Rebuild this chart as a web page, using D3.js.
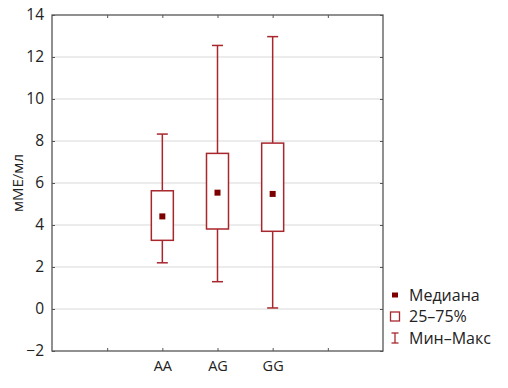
<!DOCTYPE html>
<html>
<head>
<meta charset="utf-8">
<script src="https://cdn.jsdelivr.net/npm/d3@7"></script>
<style>
  body { margin: 0; background: #fff; }
  text { font-family: "Open Sans", "Noto Sans", sans-serif; fill: #222; }
</style>
</head>
<body>
<div id="chart"></div>
<script>
// genotype groups and their box stats (mME/ml)
var groups  = ["AA", "AG", "GG"];
var mins    = [2.2, 1.3, 0.05];
var q1s     = [3.27, 3.81, 3.7];
var medians = [4.41, 5.54, 5.48];
var q3s     = [5.63, 7.41, 7.9];
var maxs    = [8.33, 12.55, 12.97];
var yTicks  = [-2, 0, 2, 4, 6, 8, 10, 12, 14];
var legendLabels = ["Медиана", "25–75%", "Мин–Макс"];

var W = 508, H = 388;
var margin = {top: 15, right: 125, bottom: 37, left: 52};
var width = W - margin.left - margin.right,
    height = H - margin.top - margin.bottom;

var boxColor = "#a8272d", medColor = "#7c0000";

var svg = d3.select("#chart").append("svg")
    .attr("width", W).attr("height", H);
var g = svg.append("g")
    .attr("transform", "translate(" + margin.left + "," + margin.top + ")");

// slots 0..6, groups sit on 2,3,4 with empty tick slots at 1 and 5
var xScale = d3.scaleLinear().domain([0, 6]).range([0, width]);
var yScale = d3.scaleLinear().domain([-2, 14]).range([height, 0]);
var slot = function(i) { return xScale(i + 2); };

// grid
g.selectAll(".grid").data(yTicks.filter(function(d){ return d > -2 && d < 14; }))
  .enter().append("line")
  .attr("x1", 0).attr("x2", width)
  .attr("y1", function(d){ return yScale(d); })
  .attr("y2", function(d){ return yScale(d); })
  .style("stroke", "#d9d9d9").style("stroke-width", 1.2);

// frame
g.append("rect").attr("width", width).attr("height", height)
  .style("fill", "none").style("stroke", "#555").style("stroke-width", 1.3);

// y axis labels + inner ticks
var yAxis = d3.axisLeft(yScale).tickValues(yTicks).tickSizeInner(-3).tickSizeOuter(0)
  .tickPadding(8).tickFormat(function(d){ return d < 0 ? "\u2212" + Math.abs(d) : d; });
var ya = g.append("g").call(yAxis);
ya.select(".domain").remove();
ya.selectAll("line").style("stroke", "#555");
ya.selectAll("text").style("font-size", "15.5px").style("fill", "#222");

// right inner ticks
var yr = g.append("g").attr("transform", "translate(" + width + ",0)")
  .call(d3.axisRight(yScale).tickValues(yTicks).tickSizeInner(-3).tickSizeOuter(0).tickFormat(""));
yr.select(".domain").remove();
yr.selectAll("line").style("stroke", "#555");

// x axis
var xTicks = [1, 2, 3, 4, 5];
var xAxis = d3.axisBottom(xScale).tickValues(xTicks).tickSizeInner(-3).tickSizeOuter(0)
  .tickPadding(10).tickFormat(function(d){ return groups[d - 2] || ""; });
var xa = g.append("g").attr("transform", "translate(0," + height + ")").call(xAxis);
xa.select(".domain").remove();
xa.selectAll("line").style("stroke", "#555");
xa.selectAll("text").style("font-size", "14.5px").style("fill", "#222");

var xt = g.append("g")
  .call(d3.axisTop(xScale).tickValues(xTicks).tickSizeInner(-3).tickSizeOuter(0).tickFormat(""));
xt.select(".domain").remove();
xt.selectAll("line").style("stroke", "#555");

// y label
svg.append("text")
  .attr("transform", "translate(23," + (margin.top + height / 2) + ") rotate(-90)")
  .attr("text-anchor", "middle")
  .style("font-size", "15px")
  .text("мМЕ/мл");

// boxes
var boxW = 22, capW = 11;
groups.forEach(function(name, i) {
  var cx = slot(i);
  var bg = g.append("g");
  bg.append("line").attr("x1", cx).attr("x2", cx)
    .attr("y1", yScale(maxs[i])).attr("y2", yScale(q3s[i]));
  bg.append("line").attr("x1", cx).attr("x2", cx)
    .attr("y1", yScale(q1s[i])).attr("y2", yScale(mins[i]));
  bg.append("line").attr("x1", cx - capW / 2).attr("x2", cx + capW / 2)
    .attr("y1", yScale(maxs[i])).attr("y2", yScale(maxs[i]));
  bg.append("line").attr("x1", cx - capW / 2).attr("x2", cx + capW / 2)
    .attr("y1", yScale(mins[i])).attr("y2", yScale(mins[i]));
  bg.selectAll("line").style("stroke", boxColor).style("stroke-width", 1.5);
  bg.append("rect").attr("x", cx - boxW / 2).attr("width", boxW)
    .attr("y", yScale(q3s[i])).attr("height", yScale(q1s[i]) - yScale(q3s[i]))
    .style("fill", "#fff").style("stroke", boxColor).style("stroke-width", 1.5);
  bg.append("rect").attr("x", cx - 3).attr("y", yScale(medians[i]) - 3)
    .attr("width", 6).attr("height", 6).style("fill", medColor);
});

// legend
var lg = svg.append("g").attr("transform", "translate(395,295)");
var rowH = 21.5;
lg.append("rect").attr("x", -3).attr("y", -2.5).attr("width", 6).attr("height", 5)
  .style("fill", medColor);
lg.append("rect").attr("x", -4.5).attr("y", rowH - 4.5).attr("width", 9).attr("height", 9)
  .style("fill", "none").style("stroke", boxColor).style("stroke-width", 1.3);
var wl = lg.append("g").attr("transform", "translate(0," + (2 * rowH) + ")");
wl.append("line").attr("x1", 0).attr("x2", 0).attr("y1", -5).attr("y2", 5);
wl.append("line").attr("x1", -3.5).attr("x2", 3.5).attr("y1", -5).attr("y2", -5);
wl.append("line").attr("x1", -3.5).attr("x2", 3.5).attr("y1", 5).attr("y2", 5);
wl.selectAll("line").style("stroke", boxColor).style("stroke-width", 1.3);
lg.selectAll(".lt").data(legendLabels).enter().append("text")
  .attr("x", 14).attr("y", function(d, i){ return i * rowH; })
  .attr("dy", "0.35em")
  .style("font-size", "16px")
  .text(function(d){ return d; });
</script>
</body>
</html>
